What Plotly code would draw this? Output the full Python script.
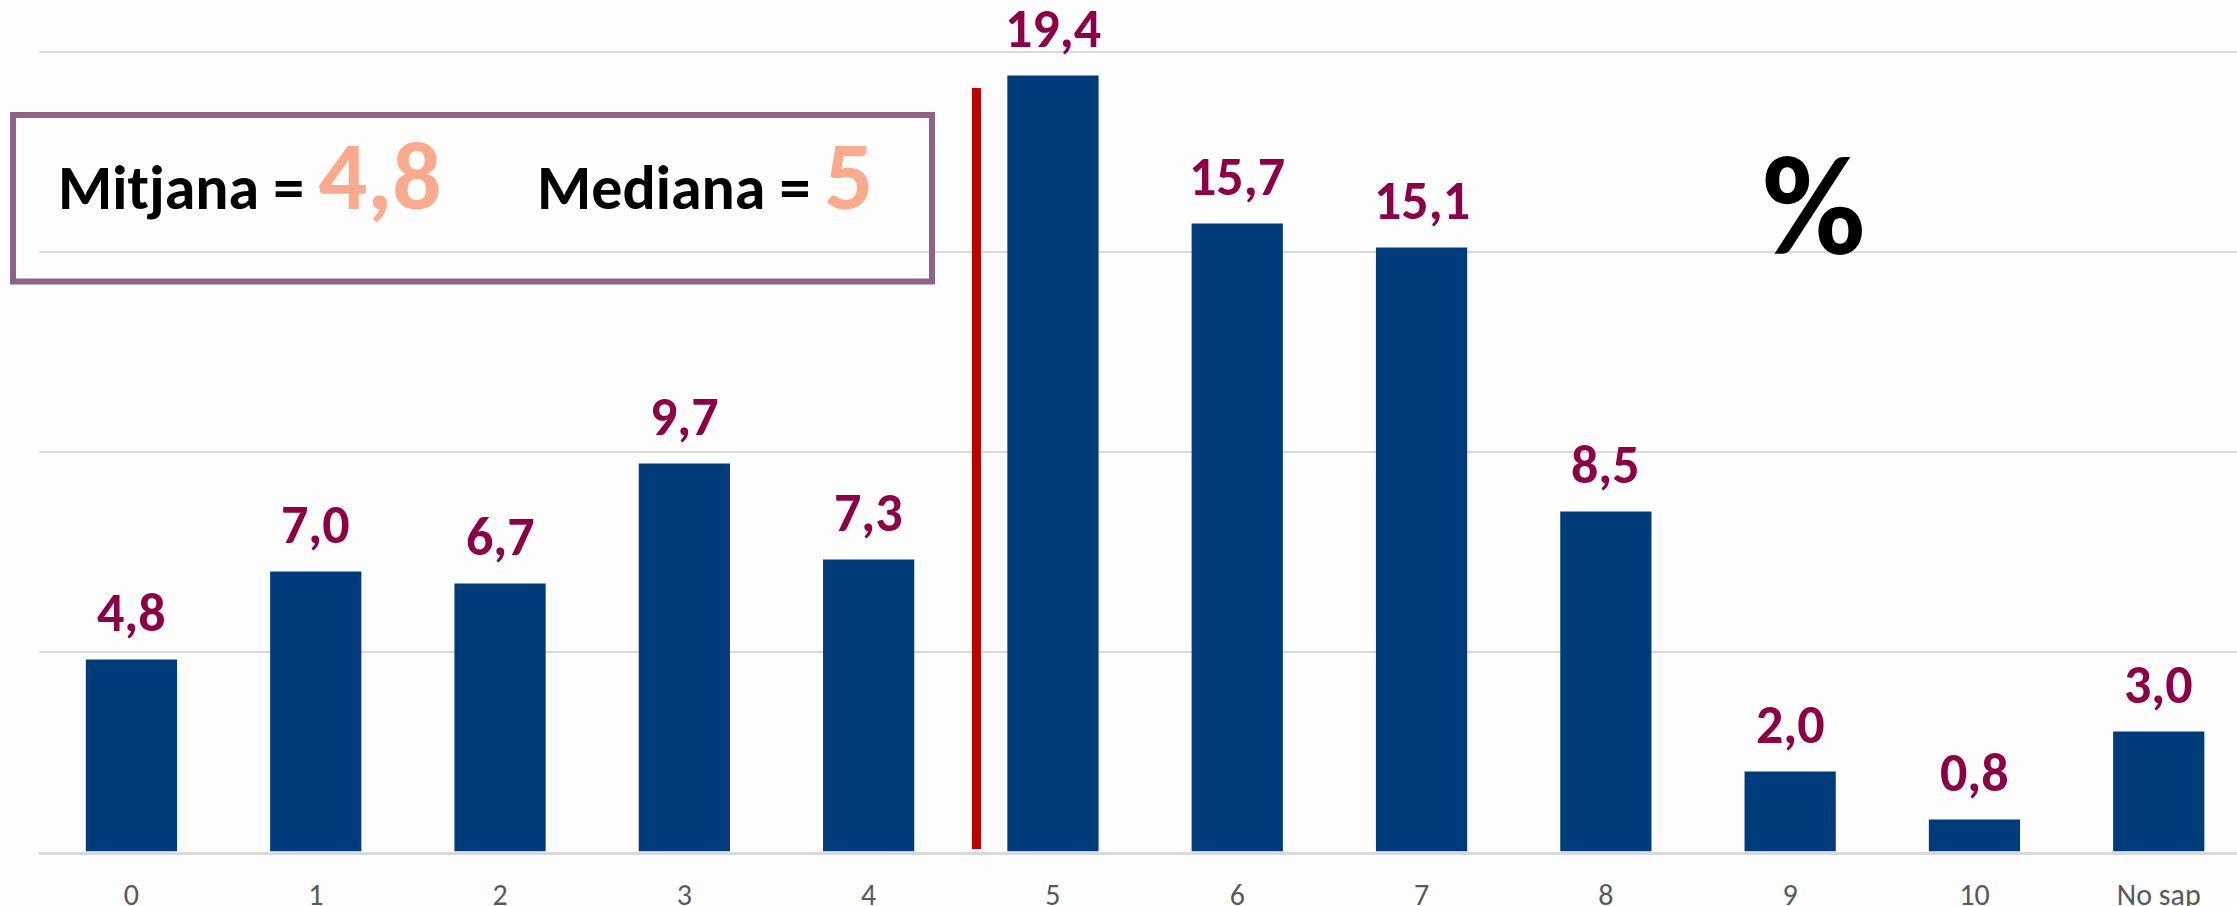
import plotly.graph_objects as go

# picture size is 2237x906; the figure is made a little taller than the window
# (the part below 906 is simply not photographed)
PAGE_W, PAGE_H = 2237, 906
FIG_H = 921

categories = ["0", "1", "2", "3", "4", "5", "6", "7", "8", "9", "10", "No sap"]
values = [4.8, 7.0, 6.7, 9.7, 7.3, 19.4, 15.7, 15.1, 8.5, 2.0, 0.8, 3.0]
labels = ["4,8", "7,0", "6,7", "9,7", "7,3", "19,4", "15,7", "15,1", "8,5", "2,0", "0,8", "3,0"]
mean_text = "4,8"
median_text = "5"
divider_pos = 4.585     # position of red divider, in category units
divider_top = 19.09     # top of red divider, in % units

FONT = "Carlito, Lato, sans-serif"
BAR_COLOR = "#003B7A"
LABEL_COLOR = "#8E0046"
ORANGE = "#FCAA8D"


def px(x):  # picture pixel -> paper x
    return x / PAGE_W


def py(y):  # picture pixel -> paper y
    return 1 - y / FIG_H


# plot area (picture pixels)
plot_left = 39.3
baseline = 851.5
band = 184.3
unit = 40.0

fig = go.Figure()
fig.add_trace(go.Bar(
    x=list(range(len(categories))), y=values,
    marker=dict(color=BAR_COLOR, line=dict(width=0)),
    width=0.495, hoverinfo="skip",
))

for i, (v, t) in enumerate(zip(values, labels)):
    fig.add_annotation(x=i, y=v, text=t, showarrow=False, xref="x", yref="y",
                       yanchor="bottom", yshift=12,
                       font=dict(family=FONT, size=54, color=LABEL_COLOR, weight="bold"))

# red divider line
fig.add_shape(type="line", xref="x", yref="y", x0=divider_pos, x1=divider_pos,
              y0=0.06, y1=divider_top, line=dict(color="#C00000", width=9))

# box
fig.add_shape(type="rect", xref="paper", yref="paper",
              x0=px(13), x1=px(932), y0=py(281.5), y1=py(115),
              line=dict(color="#8E6386", width=6), fillcolor="rgba(255,255,255,0)")

fig.add_annotation(xref="paper", yref="paper", x=px(56), y=py(176),
                   xanchor="left", yanchor="middle", showarrow=False,
                   text=f"Mitjana = <span style='font-size:97px;color:{ORANGE}'>{mean_text}</span>",
                   font=dict(family=FONT, size=62, color="black", weight="bold"))
fig.add_annotation(xref="paper", yref="paper", x=px(535), y=py(176),
                   xanchor="left", yanchor="middle", showarrow=False,
                   text=f"Mediana = <span style='font-size:97px;color:{ORANGE}'>{median_text}</span>",
                   font=dict(family=FONT, size=62, color="black", weight="bold"))

fig.add_annotation(xref="paper", yref="paper", x=px(1814), y=py(205.5),
                   xanchor="center", yanchor="middle", showarrow=False, text="%",
                   font=dict(family=FONT, size=142, color="black", weight="bold"))

fig.update_layout(
    width=PAGE_W, height=FIG_H,
    margin=dict(l=0, r=0, t=0, b=0),
    paper_bgcolor="#FDFDFD", plot_bgcolor="rgba(0,0,0,0)",
    showlegend=False,
    xaxis=dict(domain=[px(plot_left), 1], range=[-0.5, -0.5 + (PAGE_W - plot_left) / band],
               tickmode="array", tickvals=list(range(len(categories))), ticktext=categories,
               showgrid=False, zeroline=False, showline=True, linecolor="#D9D9D9", linewidth=3,
               ticks="", ticklabelstandoff=14,
               tickfont=dict(family=FONT, size=30, color="#595959")),
    yaxis=dict(domain=[py(baseline), 1], range=[0, baseline / unit], dtick=5,
               showgrid=True, gridcolor="#D9D9D9", gridwidth=2,
               zeroline=False, showticklabels=False, ticks=""),
)

fig.write_html("out.html", config={"displayModeBar": False},
               post_script="document.body.style.margin='0';document.body.style.overflow='hidden';")
